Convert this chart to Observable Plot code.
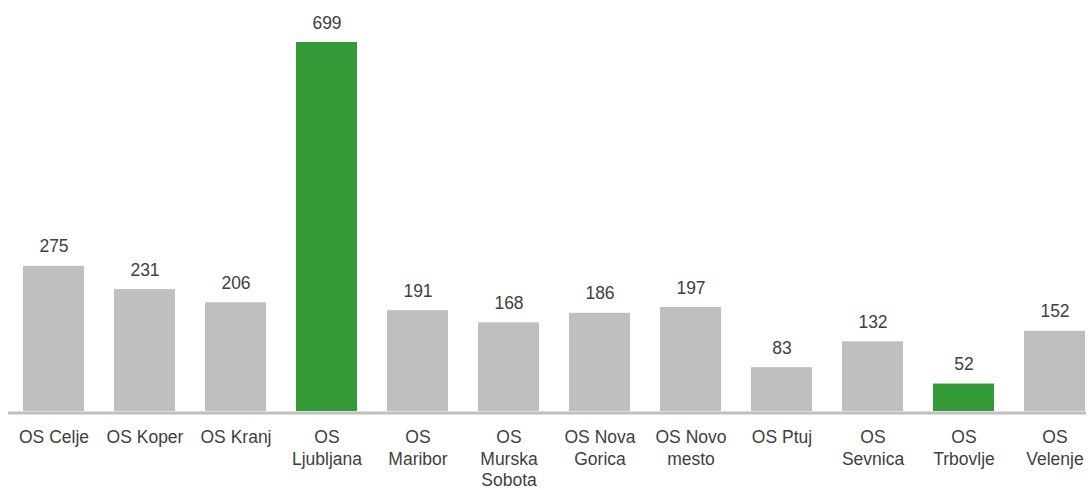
<!DOCTYPE html>
<html>
<head>
<meta charset="utf-8">
<script src="https://cdn.jsdelivr.net/npm/d3@7"></script>
<script src="https://cdn.jsdelivr.net/npm/@observablehq/plot@0.6"></script>
<style>
  html, body { margin: 0; padding: 0; background: #fff; overflow: hidden; }
  #chart { width: 1088px; height: 490px; }
</style>
</head>
<body>
<div id="chart"></div>
<script>
const categories = ["OS Celje", "OS Koper", "OS Kranj", "OS Ljubljana", "OS Maribor", "OS Murska Sobota",
  "OS Nova Gorica", "OS Novo mesto", "OS Ptuj", "OS Sevnica", "OS Trbovlje", "OS Velenje"];
const values = [275, 231, 206, 699, 191, 168, 186, 197, 83, 132, 52, 152];
const tickLabels = ["OS Celje", "OS Koper", "OS Kranj", "OS\nLjubljana", "OS\nMaribor", "OS\nMurska\nSobota",
  "OS Nova\nGorica", "OS Novo\nmesto", "OS Ptuj", "OS\nSevnica", "OS\nTrbovlje", "OS\nVelenje"];
const highlighted = ["OS Ljubljana", "OS Trbovlje"];

const data = categories.map((c, i) => ({
  category: c,
  value: values[i],
  label: tickLabels[i],
  hl: highlighted.includes(c)
}));

const chart = Plot.plot({
  width: 1088,
  height: 490,
  marginLeft: 8,
  marginRight: 2,
  marginTop: 0,
  marginBottom: 0,
  style: { fontFamily: "'Liberation Sans', Arial, sans-serif", background: "#fff" },
  x: { type: "band", domain: categories, range: [8.2, 1100.2], paddingInner: 0.333, paddingOuter: 0.1665, axis: null },
  y: { domain: [0, 699], range: [411, 42], axis: null },
  marks: [
    Plot.barY(data, { x: "category", y: "value", fill: d => d.hl ? "#349a38" : "#bfbfbf" }),
    Plot.ruleY([0], { stroke: "#bfbfbf", strokeWidth: 3, dy: 1.5 }),
    Plot.text(data, { x: "category", y: "value", text: d => String(d.value), lineAnchor: "bottom", dy: -14, fontSize: 17.5, fill: "#404040" }),
    Plot.text(data, { x: "category", y: 0, text: "label", lineAnchor: "top", dy: 16.5, fontSize: 17.5, lineHeight: 1.22, fill: "#404040" })
  ]
});
document.getElementById("chart").appendChild(chart);
</script>
</body>
</html>
